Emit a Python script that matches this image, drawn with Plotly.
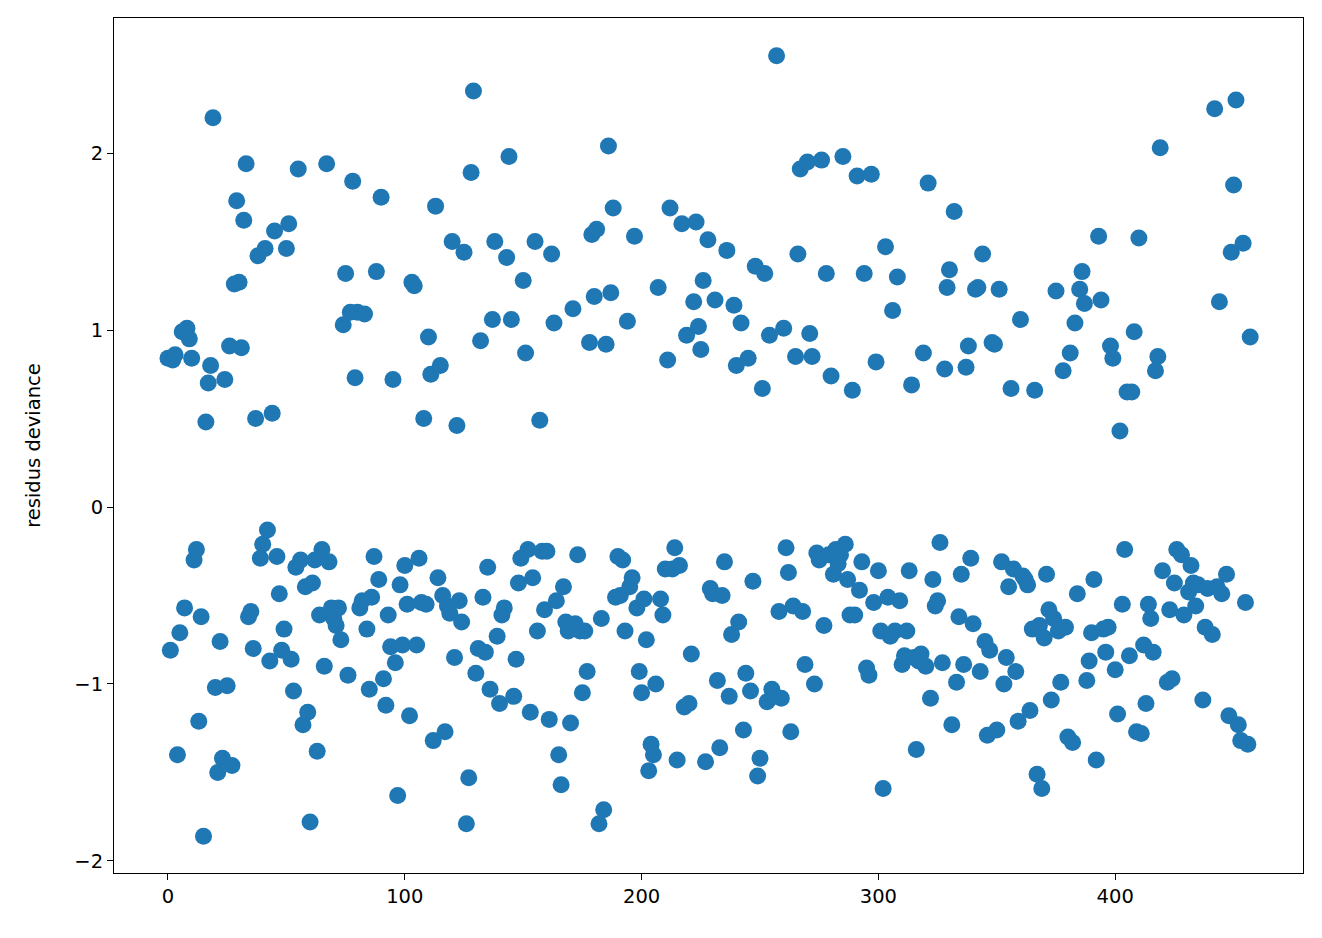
import plotly.graph_objects as go

# residus deviance (index 0..419 sequential)
resid_a = [
 0.84,-0.81,0.83,0.86,-1.40,-0.71,0.99,-0.57,1.01,0.95,
 0.84,-0.30,-0.24,-1.21,-0.62,-1.86,0.48,0.70,0.80,2.20,
 -1.02,-1.50,-0.76,-1.42,0.72,-1.01,0.91,-1.46,1.26,1.73,
 1.27,0.90,1.62,1.94,-0.62,-0.59,-0.80,0.50,1.42,-0.29,
 -0.21,1.46,-0.13,-0.87,0.53,1.56,-0.28,-0.49,-0.81,-0.69,
 1.46,1.60,-0.86,-1.04,-0.34,1.91,-0.30,-1.23,-0.45,-1.16,
 -1.78,-0.43,-0.30,-1.38,-0.61,-0.24,-0.90,1.94,-0.31,-0.57,
 -0.63,-0.67,-0.57,-0.75,1.03,1.32,-0.95,1.10,1.84,0.73,
 1.10,-0.57,-0.53,1.09,-0.69,-1.03,-0.51,-0.28,1.33,-0.41,
 1.75,-0.97,-1.12,-0.61,-0.79,0.72,-0.88,-1.63,-0.44,-0.78,
 -0.33,-0.55,-1.18,1.27,1.25,-0.78,-0.29,-0.54,0.50,-0.55,
 0.96,0.75,-1.32,1.70,-0.40,0.80,-0.50,-1.27,-0.56,-0.60,
 1.50,-0.85,0.46,-0.53,-0.65,1.44,-1.79,-1.53,1.89,2.35,
 -0.94,-0.80,0.94,-0.51,-0.82,-0.34,-1.03,1.06,1.50,-0.73,
 -1.11,-0.61,-0.57,1.41,1.98,1.06,-1.07,-0.86,-0.43,-0.29,
 1.28,0.87,-0.24,-1.16,-0.40,1.50,-0.70,0.49,-0.25,-0.58,
 -0.25,-1.20,1.43,1.04,-0.53,-1.40,-1.57,-0.45,-0.65,-0.70,
 -1.22,1.12,-0.66,-0.27,-0.70,-1.05,-0.70,-0.93,0.93,1.54,
 1.19,1.57,-1.79,-0.63,-1.71,0.92,2.04,1.21,1.69,-0.51,
 -0.28,-0.50,-0.30,-0.70,1.05,-0.45,-0.40,1.53,-0.57,-0.93,
 -1.05,-0.52,-0.75,-1.49,-1.34,-1.40,-1.00,1.24,-0.52,-0.61,
 -0.35,0.83,1.69,-0.35,-0.23,-1.43,-0.33,1.60,-1.13,0.97,
 -1.11,-0.83,1.16,1.61,1.02,0.89,1.28,-1.44,1.51,-0.46,
 -0.49,1.17,-0.98,-1.36,-0.50,-0.31,1.45,-1.07,-0.72,1.14,
 0.80,-0.65,1.04,-1.26,-0.94,0.84,-1.04,-0.42,1.36,-1.52,
 -1.42,0.67,1.32,-1.10,0.97,-1.03,-1.07,2.55,-0.59,-1.08,
 1.01,-0.23,-0.37,-1.27,-0.56,0.85,1.43,1.91,-0.59,-0.89,
 1.95,0.98,0.85,-1.00,-0.26,-0.30,1.96,-0.67,1.32,-0.27,
 0.74,-0.38,-0.24,-0.32,-0.27,1.98,-0.21,-0.41,-0.61,0.66,
 -0.61,1.87,-0.47,-0.31,1.32,-0.91,-0.95,1.88,-0.54,0.82,
 -0.36,-0.70,-1.59,1.47,-0.51,-0.73,1.11,-0.70,1.30,-0.53,
 -0.89,-0.84,-0.70,-0.36,0.69,-0.85,-1.37,-0.87,-0.83,0.87,
 -0.90,1.83,-1.08,-0.41,-0.56,-0.53,-0.20,-0.88,0.78,1.24,
 1.34,-1.23,1.67,-0.99,-0.62,-0.38,-0.89,0.79,0.91,-0.29,
 -0.66,1.23,1.24,-0.93,1.43,-0.76,-1.29,-0.81,0.93,0.92,
 -1.26,1.23,-0.31,-1.00,-0.85,-0.45,0.67,-0.35,-0.93,-1.21,
 1.06,-0.39,-0.41,-0.44,-1.15,-0.69,0.66,-1.51,-0.67,-1.59,
 -0.74,-0.38,-0.58,-1.09,-0.63,1.22,-0.70,-0.99,0.77,-0.68,
 -1.30,0.87,-1.33,1.04,-0.49,1.23,1.33,1.15,-0.98,-0.87,
 -0.71,-0.41,-1.43,1.53,1.17,-0.69,-0.82,-0.68,0.91,0.84,
 -0.92,-1.17,0.43,-0.55,-0.24,0.65,-0.84,0.65,0.99,-1.27,
 1.52,-1.28,-0.78,-1.11,-0.55,-0.63,-0.82,0.77,0.85,2.03,
]
index_a = list(range(len(resid_a)))

# tail of the series with its own observation indices
index_b = [420,422,423,424,425,426,428,429,431,432,433,434,435,437,438,439,
           441,442,443,444,445,447,448,449,450,451,452,453,454,455,456,457]
resid_b = [-0.36,-0.99,-0.58,-0.97,-0.43,-0.24,-0.27,-0.61,-0.48,-0.33,-0.43,-0.56,
           -0.44,-1.09,-0.68,-0.46,-0.72,2.25,-0.45,1.16,-0.49,-0.38,-1.18,1.44,
           1.82,2.30,-1.23,-1.32,1.49,-0.54,-1.34,0.96]

x_ticks = [0, 100, 200, 300, 400]
y_ticks = [-2, -1, 0, 1, 2]
y_title = "residus deviance"

fig = go.Figure(go.Scatter(
    x=index_a + index_b, y=resid_a + resid_b, mode="markers",
    marker=dict(color="#1f77b4", size=17, line=dict(width=0)),
    showlegend=False,
))

font_main = dict(family="DejaVu Sans", size=19.5, color="black")
axis_common = dict(
    showline=True, linecolor="black", linewidth=1, mirror=True,
    ticks="outside", ticklen=6, tickcolor="black", tickwidth=1,
    showgrid=False, zeroline=False,
    tickfont=font_main,
)
fig.update_xaxes(range=[-22.8, 479.3], tickvals=x_ticks, **axis_common)
fig.update_yaxes(range=[-2.068, 2.763], tickvals=y_ticks,
                 title=dict(text=y_title, font=font_main, standoff=28),
                 **axis_common)

fig.update_layout(
    width=1322, height=938,
    margin=dict(l=106, r=27, t=10, b=73),
    plot_bgcolor="white", paper_bgcolor="white",
)

fig.write_html("out.html")
